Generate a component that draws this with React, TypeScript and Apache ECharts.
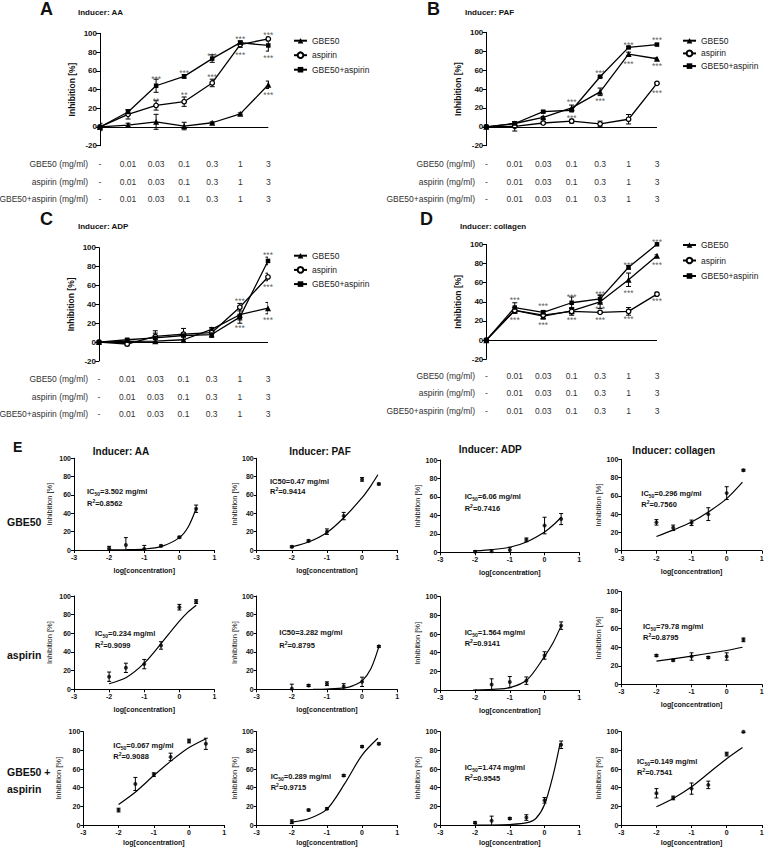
import React, { useEffect, useRef } from 'react';
import * as echarts from 'echarts';

const FONT = 'Liberation Sans, Arial, Helvetica, sans-serif';

// ---------- shared categories ----------
const doseLabels = ['-', '0.01', '0.03', '0.1', '0.3', '1', '3'];
const doses = [0.01, 0.03, 0.1, 0.3, 1, 3];
const seriesNames = ['GBE50', 'aspirin', 'GBE50+aspirin'];
const inducerNames = ['AA', 'PAF', 'ADP', 'collagen'];
const rowNames = ['GBE50', 'aspirin', 'GBE50 +\naspirin'];
const tableRowLabels = ['GBE50 (mg/ml)', 'aspirin (mg/ml)', 'GBE50+aspirin (mg/ml)'];

// ---------- AA ----------
const aaGbe = [0, 2, 5.5, 1, 4.5, 14, 45];
const aaGbeErr = [4, 2, 8, 4, 1, 1, 4];
const aaAsp = [0, 13.5, 23, 27, 47, 88, 94];
const aaAspErr = [0, 5, 5, 5, 4, 3, 2];
const aaMix = [0, 16, 44, 54, 73, 90, 87];
const aaMixErr = [0, 2, 7, 2, 4, 2, 6];
const aaStars = [[2, 53, '***'], [2, 30, '**'], [3, 60, '***'], [3, 36, '**'], [4, 78, '***'], [4, 55.5, '***'], [5, 96, '***'], [5, 78.6, '***'], [6, 100, '***'], [6, 76, '***'], [6, 36, '***']];

// ---------- PAF ----------
const pafGbe = [0, 3.5, 10, 20, 37, 77, 72];
const pafGbeErr = [0, 1, 1, 3, 4, 2, 1];
const pafAsp = [0, 0.5, 4, 6, 3, 8, 46];
const pafAspErr = [0, 5, 1, 2, 3, 5, 1];
const pafMix = [0, 3.5, 16, 17.5, 53, 84, 87];
const pafMixErr = [0, 2, 1, 1, 1, 1, 1];
const pafStars = [[3, 28, '***'], [3, 11.3, '***'], [4, 59, '***'], [4, 29, '***'], [5, 89, '***'], [5, 69, '***'], [6, 94, '***'], [6, 66, '***'], [6, 38, '***']];

// ---------- ADP ----------
const adpGbe = [0, 0.7, 1, 2.5, 13.5, 29, 36];
const adpGbeErr = [0, 1, 2, 3, 2, 9, 6];
const adpAsp = [0, -2, 6, 8.5, 10, 37, 69];
const adpAspErr = [0, 2, 6, 6, 4, 4, 4];
const adpMix = [0, 2.5, 4.5, 7, 8, 26.5, 86];
const adpMixErr = [0, 1, 5, 1, 3, 3, 4];
const adpStars = [[5, 46, '***'], [5, 16.7, '***'], [6, 94.7, '***'], [6, 60.6, '***'], [6, 25.9, '***']];

// ---------- collagen ----------
const colGbe = [0, 31, 25, 30.5, 40, 63, 88];
const colGbeErr = [0, 3, 3, 3, 7, 7, 1];
const colAsp = [0, 31, 26, 30, 29, 30, 48];
const colAspErr = [0, 1, 1, 4, 1, 4, 2];
const colMix = [0, 34, 29, 39, 43, 76, 100];
const colMixErr = [0, 5, 2, 6, 4, 2, 1];
const colStars = [[1, 43.6, '***'], [1, 22.6, '***'], [2, 37.3, '***'], [2, 18.1, '***'], [3, 47, '***'], [3, 22.6, '***'], [4, 50.5, '***'], [4, 34.8, '***'], [4, 22.6, '***'], [5, 81, '***'], [5, 51, '***'], [5, 23.7, '***'], [6, 104.5, '***'], [6, 80.8, '***'], [6, 42.5, '***']];

// ---------- fitted curves ----------
const aaGbeFit = [[-2, 0.2], [-1.5, 0.4], [-1, 1], [-0.5, 4], [0, 13.5], [0.25, 25], [0.48, 45.5]];
const pafGbeFit = [[-2, 3.5], [-1.5, 9], [-1, 19], [-0.5, 36], [0, 57], [0.25, 70], [0.45, 82]];
const adpGbeFit = [[-2, 1.5], [-1.5, 3], [-1, 5.5], [-0.5, 11.5], [0, 22], [0.25, 29.5], [0.48, 38]];
const colGbeFit = [[-2, 15.5], [-1.5, 23], [-1, 31.5], [-0.5, 43], [0, 57], [0.45, 75]];
const aaAspFit = [[-2, 6], [-1.5, 13], [-1, 28], [-0.5, 50], [0, 73], [0.25, 83], [0.48, 90]];
const pafAspFit = [[-1.4, 0], [-1, 0.3], [-0.5, 1.5], [-0.25, 4], [0, 9], [0.25, 22], [0.48, 46]];
const adpAspFit = [[-2, 0], [-1.5, 0.7], [-1, 2.5], [-0.5, 11], [0, 36], [0.25, 51], [0.48, 69]];
const colAspFit = [[-2, 25], [-1, 30.5], [0, 36.5], [0.45, 40]];
const aaMixFit = [[-2, 22], [-1.5, 36], [-1, 53], [-0.5, 69], [0, 83], [0.48, 92.5]];
const pafMixFit = [[-2, 3], [-1.5, 7], [-1, 17], [-0.5, 44], [0, 75], [0.45, 93]];
const adpMixFit = [[-2, 0], [-1.5, 0], [-1, 0.5], [-0.5, 2.5], [-0.25, 7], [0, 22], [0.25, 54], [0.45, 88]];
const colMixFit = [[-2, 19.5], [-1.5, 29], [-1, 41], [-0.5, 56], [0, 71], [0.45, 83]];

// ---------- IC50 / R2 annotations (row by row) ----------
const ic50Values = ['3.502', '0.47', '6.06', '0.296', '0.234', '3.282', '1.564', '79.78', '0.067', '0.289', '1.474', '0.149'];
const r2Values = ['0.8562', '0.9414', '0.7416', '0.7560', '0.9099', '0.8795', '0.9141', '0.8795', '0.9088', '0.9715', '0.9545', '0.7541'];
const ic50Subscript = [true, false, true, true, true, false, true, true, true, true, true, true];

// ---------- layout (not data) ----------
const topLayout = [
  { left: 100, top: 33.3, width: 168.3, height: 112.4, margin: 9.5, legendLeft: 293, legendTop: 35.7, legendGap: 4.5, rowRight: 88, letterX: 40, letterY: 9, titleX: 78, titleY: 12 },
  { left: 486.3, top: 32.3, width: 170.7, height: 113.4, margin: 9.5, legendLeft: 682, legendTop: 35.7, legendGap: 2.7, rowRight: 475, letterX: 427, letterY: 9, titleX: 465, titleY: 12 },
  { left: 99, top: 247.7, width: 169, height: 113.3, margin: 9.2, legendLeft: 293, legendTop: 250.7, legendGap: 4.2, rowRight: 88, letterX: 40, letterY: 219, titleX: 78, titleY: 226 },
  { left: 486.3, top: 244.3, width: 170.7, height: 115, margin: 7.5, legendLeft: 682, legendTop: 240, legendGap: 5.5, rowRight: 475, letterX: 420, letterY: 219, titleX: 460, titleY: 226 },
];
const TABLE_LH = 17.7;
const eColLeft = [74, 256.7, 440.3, 621.3];
const eRowTop = [458.3, 596, 731.7];
const eRowHeight = [91.7, 93.3, 93.3];
const eNameGapX = [17, 17, 13.5];
const eTitleX = [121, 320, 490.3, 673.7];
const eTitleY = [451.7, 451.7, 449.3, 450];
const eRowLabelY = [521.7, 655, 780.5];
const icPos = [
  [87, 491.7, 503.3], [270, 481.7, 491.7], [464.7, 496.7, 508.3], [641.3, 493.3, 504.3],
  [95, 633.3, 645], [279.3, 632.3, 645], [464.7, 632.7, 643.3], [643, 626.7, 637.7],
  [113.3, 745, 756.7], [270.7, 776, 787.7], [464.7, 767.7, 778.3], [637, 761.7, 772.7],
];

const topMeans = [[aaGbe, aaAsp, aaMix], [pafGbe, pafAsp, pafMix], [adpGbe, adpAsp, adpMix], [colGbe, colAsp, colMix]];
const topErrs = [[aaGbeErr, aaAspErr, aaMixErr], [pafGbeErr, pafAspErr, pafMixErr], [adpGbeErr, adpAspErr, adpMixErr], [colGbeErr, colAspErr, colMixErr]];
const topStars = [aaStars, pafStars, adpStars, colStars];
const fits = [
  [aaGbeFit, pafGbeFit, adpGbeFit, colGbeFit],
  [aaAspFit, pafAspFit, adpAspFit, colAspFit],
  [aaMixFit, pafMixFit, adpMixFit, colMixFit],
];

const symbols = ['triangle', 'circle', 'rect'];
const symbolSizes = [6, 4.5, 4.5];

function errorBars(xi: number, data: number[][], cap: number, z = 2) {
  return {
    type: 'custom',
    xAxisIndex: xi,
    yAxisIndex: xi,
    data,
    clip: true,
    silent: true,
    z,
    encode: { x: 0, y: 1 },
    renderItem: (_params: any, api: any) => {
      const x = api.value(0);
      const y = api.value(1);
      const e = api.value(2);
      const hi = api.coord([x, y + e]);
      const lo = api.coord([x, y - e]);
      const st = { stroke: '#000', lineWidth: 1 };
      return {
        type: 'group',
        children: [
          { type: 'line', shape: { x1: hi[0], y1: hi[1], x2: lo[0], y2: lo[1] }, style: st },
          { type: 'line', shape: { x1: hi[0] - cap, y1: hi[1], x2: hi[0] + cap, y2: hi[1] }, style: st },
          { type: 'line', shape: { x1: lo[0] - cap, y1: lo[1], x2: lo[0] + cap, y2: lo[1] }, style: st },
        ],
      };
    },
  };
}

function txt(x: number, y: number, text: string, size: number, weight: string, align = 'left', extra: any = {}) {
  return {
    type: 'text',
    x,
    y,
    silent: true,
    style: { text, fontSize: size, fontWeight: weight, fontFamily: FONT, fill: '#111', align, verticalAlign: 'middle', ...extra },
  };
}

function buildOption() {
  const grid: any[] = [];
  const xAxis: any[] = [];
  const yAxis: any[] = [];
  const series: any[] = [];
  const legend: any[] = [];
  const graphic: any[] = [];

  // ---------- top panels A-D ----------
  topLayout.forEach((L, p) => {
    grid.push({ left: L.left, top: L.top, width: L.width, height: L.height, containLabel: false, outerBoundsMode: 'none' });
    xAxis.push({
      type: 'category', gridIndex: p, data: doseLabels, boundaryGap: false,
      axisLine: { show: false }, axisTick: { show: false }, splitLine: { show: false },
      axisLabel: {
        show: true, interval: 0, margin: L.margin, lineHeight: TABLE_LH, fontSize: 8.5, color: '#333', fontFamily: FONT,
        formatter: (v: string) => `${v}\n${v}\n${v}`,
      },
    });
    yAxis.push({
      type: 'value', gridIndex: p, min: -20, max: 100, interval: 20,
      axisLine: { show: true, onZero: false, lineStyle: { color: '#000', width: 1 } },
      axisTick: { show: true, length: 4, lineStyle: { color: '#000', width: 1 } },
      splitLine: { show: false },
      axisLabel: { fontSize: 8, fontWeight: 'bold', color: '#111', margin: 3, fontFamily: FONT },
      name: 'Inhibition [%]', nameLocation: 'middle', nameGap: 23.5,
      nameTextStyle: { fontSize: 8.5, fontWeight: 'bold', color: '#111', fontFamily: FONT },
    });
    seriesNames.forEach((nm, s) => {
      const errData = topErrs[p][s].map((e, i) => [i, topMeans[p][s][i], e]).filter((d) => d[2] > 0);
      series.push(errorBars(p, errData, 2.5, 2));
      const ser: any = {
        type: 'line', name: nm, xAxisIndex: p, yAxisIndex: p, data: topMeans[p][s],
        symbol: symbols[s], symbolSize: symbolSizes[s], showAllSymbol: true, z: 3,
        lineStyle: { color: '#000', width: 1.3 },
        itemStyle: s === 1 ? { color: '#fff', borderColor: '#000', borderWidth: 1.3 } : { color: '#000' },
        emphasis: { disabled: true },
      };
      if (s === 0) {
        ser.markLine = {
          silent: true, symbol: 'none', animation: false, label: { show: false },
          lineStyle: { color: '#000', width: 1, type: 'solid' }, data: [{ yAxis: 0 }],
        };
      }
      series.push(ser);
    });
    series.push({
      type: 'scatter', xAxisIndex: p, yAxisIndex: p, data: topStars[p], symbolSize: 1, clip: false, z: 5,
      itemStyle: { color: 'transparent' },
      label: { show: true, position: 'inside', formatter: (q: any) => q.data[2], fontSize: 8.5, color: '#333', fontFamily: FONT, offset: [0, 2] },
    });
    legend.push({
      orient: 'vertical', left: L.legendLeft, top: L.legendTop, itemWidth: 13, itemHeight: 7, itemGap: L.legendGap,
      padding: 0, selectedMode: false, data: seriesNames,
      textStyle: { fontSize: 8.5, color: '#222', fontFamily: FONT, lineHeight: 10 },
    });
    graphic.push(txt(L.letterX, L.letterY, ['A', 'B', 'C', 'D'][p], 18, 'bold'));
    graphic.push(txt(L.titleX, L.titleY, 'Inducer: ' + inducerNames[p], 8, 'bold'));
    const firstRow = L.top + L.height + L.margin + TABLE_LH / 2;
    tableRowLabels.forEach((t, k) => {
      graphic.push(txt(L.rowRight, firstRow + k * TABLE_LH, t, 8.5, 'normal', 'right', { fill: '#333' }));
    });
  });

  // ---------- panel E ----------
  graphic.push(txt(13, 447, 'E', 14, 'bold'));
  const logDose = doses.map((d) => Math.log10(d));
  const allMeans = [0, 1, 2].map((s) => [0, 1, 2, 3].map((c) => topMeans[c][s]));
  const allErrs = [0, 1, 2].map((s) => [0, 1, 2, 3].map((c) => topErrs[c][s]));
  for (let r = 0; r < 3; r++) {
    for (let c = 0; c < 4; c++) {
      const gi = grid.length;
      let left = eColLeft[c];
      let top = eRowTop[r];
      let height = eRowHeight[r];
      if (r === 2 && c === 0) left = 83.3;
      if (r === 1 && c === 3) { top = 591.7; height = 92.6; }
      if (r === 0 && c === 2) { top = 460; height = 92.3; }
      if (r === 0 && c === 3) { top = 459.3; height = 91.4; }
      if (r === 1 && c === 2) { top = 596.7; height = 93.3; }
      const width = r === 2 && c === 0 ? 141 : c === 2 ? 139 : 140.5;
      grid.push({ left, top, width, height, containLabel: false, outerBoundsMode: 'none' });
      xAxis.push({
        type: 'value', gridIndex: gi, min: -3, max: 1, interval: 1,
        axisLine: { show: true, onZero: false, lineStyle: { color: '#000', width: 1 } },
        axisTick: { show: true, length: 3, lineStyle: { color: '#000' } },
        splitLine: { show: false },
        axisLabel: { fontSize: 7, fontWeight: 'bold', color: '#111', margin: r === 2 ? 3.5 : 4, fontFamily: FONT },
        name: 'log[concentration]', nameLocation: 'middle', nameGap: eNameGapX[r],
        nameTextStyle: { fontSize: 7, fontWeight: 'bold', color: '#111', fontFamily: FONT },
      });
      yAxis.push({
        type: 'value', gridIndex: gi, min: 0, max: 100, interval: 20,
        axisLine: { show: true, onZero: false, lineStyle: { color: '#000', width: 1 } },
        axisTick: { show: true, length: 3, lineStyle: { color: '#000' } },
        splitLine: { show: false },
        axisLabel: { fontSize: 7, fontWeight: 'bold', color: '#111', margin: 3, fontFamily: FONT },
        name: 'Inhibition [%]', nameLocation: 'middle', nameGap: c === 0 ? 21 : 18.5,
        nameTextStyle: { fontSize: 7.5, color: '#111', fontFamily: FONT },
      });
      const means = allMeans[r][c];
      const errs = allErrs[r][c];
      const pts = logDose.map((lx, i) => [lx, means[i + 1], errs[i + 1]]);
      series.push(errorBars(gi, pts.filter((d) => d[2] > 0), 2, 2));
      series.push({
        type: 'scatter', xAxisIndex: gi, yAxisIndex: gi, data: pts.map((d) => [d[0], d[1]]),
        symbol: 'circle', symbolSize: 4, itemStyle: { color: '#000' }, clip: true, z: 3,
      });
      series.push({
        type: 'line', xAxisIndex: gi, yAxisIndex: gi, data: fits[r][c], smooth: 0.3,
        showSymbol: false, symbol: 'none', clip: true, z: 2,
        lineStyle: { color: '#000', width: 1.2 },
      });
      const k = r * 4 + c;
      const [ix, iy, ry] = icPos[k];
      const aStyle = { fontSize: 7.5, fontWeight: 'bold', fontFamily: FONT, fill: '#111', lineHeight: 10 };
      const smallStyle = { fontSize: 5, fontWeight: 'bold', fontFamily: FONT, fill: '#111' };
      const icText = ic50Subscript[k]
        ? `{a|IC}{s|50}{a|=${ic50Values[k]} mg/ml}`
        : `{a|IC50=${ic50Values[k]} mg/ml}`;
      graphic.push({
        type: 'text', x: ix, y: iy, silent: true,
        style: { text: icText, align: 'left', verticalAlign: 'middle', rich: { a: aStyle, s: { ...smallStyle, verticalAlign: 'bottom' } } },
      });
      graphic.push({
        type: 'text', x: ix, y: ry, silent: true,
        style: { text: `{a|R}{p|2}{a|=${r2Values[k]}}`, align: 'left', verticalAlign: 'middle', rich: { a: aStyle, p: { ...smallStyle, verticalAlign: 'top' } } },
      });
    }
  }
  inducerNames.forEach((nm, c) => {
    graphic.push(txt(eTitleX[c], eTitleY[c], 'Inducer: ' + nm, 10, 'bold', 'center'));
  });
  rowNames.forEach((nm, r) => {
    graphic.push(txt(7, eRowLabelY[r], nm, 10.5, 'bold', 'left', { lineHeight: 16.7 }));
  });

  return {
    animation: false,
    backgroundColor: '#fff',
    textStyle: { fontFamily: FONT },
    grid, xAxis, yAxis, series, legend, graphic,
  };
}

export default function App() {
  const ref = useRef<HTMLDivElement>(null);
  useEffect(() => {
    const chart = echarts.init(ref.current as HTMLDivElement, null, { renderer: 'svg' });
    chart.setOption(buildOption() as any);
    return () => chart.dispose();
  }, []);
  return (
    <div
      ref={ref}
      style={{ position: 'absolute', left: 0, top: 0, width: 764, height: 849, background: '#fff' }}
    />
  );
}
